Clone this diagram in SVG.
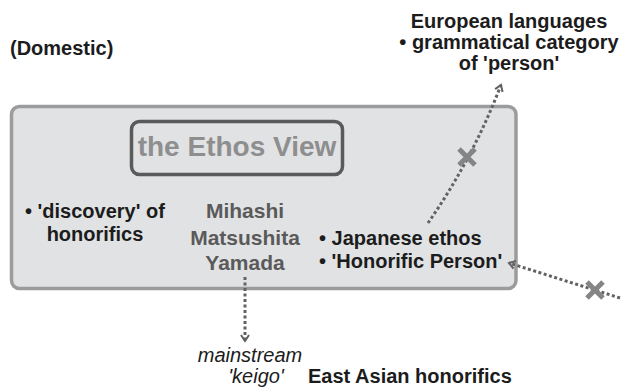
<svg xmlns="http://www.w3.org/2000/svg" width="621" height="388" viewBox="0 0 621 388">
<style>
text{font-family:"Liberation Sans",Arial,sans-serif;font-weight:bold;font-size:20px;fill:#1c1c1c}
.names{fill:#5a5a5a;font-size:21px}
.ethos{fill:#8e8e8e;font-size:28px}
.it{font-weight:normal;font-style:italic}
.dot{fill:none;stroke:#626262;stroke-width:3;stroke-dasharray:3 2.5}
.x{stroke:#858585;stroke-width:5;stroke-linecap:butt}
</style>
<defs>
<marker id="chev" markerUnits="userSpaceOnUse" viewBox="-9 -6 11 12" refX="0" refY="0" markerWidth="11" markerHeight="12" orient="auto">
<path d="M-6,-4 L0,0 L-6,4" fill="none" stroke="#626262" stroke-width="2"/>
</marker>
</defs>
<g id="domestic"><text x="10" y="55">(Domestic)</text></g>
<g id="european">
<text x="509" y="28" text-anchor="middle">European languages</text>
<text x="509" y="49" text-anchor="middle">• grammatical category</text>
<text x="509" y="70" text-anchor="middle">of 'person'</text>
</g>
<g id="mainbox">
<rect x="11.5" y="106.5" width="504.5" height="182" rx="8" fill="#e1e2e4" stroke="#9c9c9c" stroke-width="3.5"/>
</g>
<g id="ethosview">
<rect x="131.5" y="121.5" width="211" height="53" rx="8" fill="none" stroke="#5a5a5a" stroke-width="3.5"/>
<text class="ethos" x="237" y="156" text-anchor="middle">the Ethos View</text>
</g>
<g id="discovery">
<text x="25" y="218">• 'discovery' of</text>
<text x="95" y="241" text-anchor="middle">honorifics</text>
</g>
<g id="names">
<text class="names" x="245" y="218" text-anchor="middle">Mihashi</text>
<text class="names" x="245" y="245" text-anchor="middle">Matsushita</text>
<text class="names" x="245" y="270" text-anchor="middle">Yamada</text>
</g>
<g id="japanese">
<text x="319" y="245">• Japanese ethos</text>
<text x="319" y="268">• 'Honorific Person'</text>
</g>
<g id="mainstream">
<text class="it" x="250" y="362" text-anchor="middle">mainstream</text>
<text class="it" x="256" y="383" text-anchor="middle">'keigo'</text>
</g>
<g id="eastasian"><text x="308" y="383">East Asian honorifics</text></g>
<g id="connectors">
<path class="dot" d="M428,223 Q472,160 501,85" marker-end="url(#chev)"/>
<path class="dot" d="M620,298 L509,263" marker-end="url(#chev)"/>
<path class="dot" d="M245,277 L245,341" marker-end="url(#chev)"/>
<path class="x" d="M459,149 L475,165 M475,149 L459,165"/>
<path class="x" d="M587,282 L603,298 M603,282 L587,298"/>
</g>
</svg>
